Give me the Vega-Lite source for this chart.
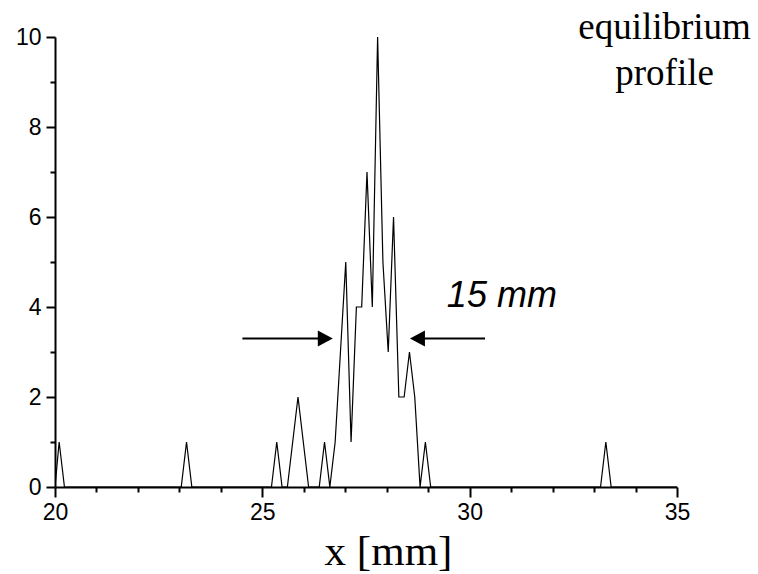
{
  "$schema": "https://vega.github.io/schema/vega-lite/v6.json",
  "width": 622,
  "height": 450,
  "autosize": {"type": "none"},
  "padding": {"left": 55, "top": 37, "right": 81, "bottom": 87},
  "background": "white",
  "config": {"view": {"stroke": null}},
  "resolve": {"axis": {"x": "independent", "y": "independent"}},
  "layer": [
    {
      "data": {"values": [
        {"x": 20.0, "y": 0}, {"x": 20.1, "y": 1}, {"x": 20.228, "y": 0}, {"x": 20.356, "y": 0}, {"x": 20.484, "y": 0},
        {"x": 20.612, "y": 0}, {"x": 20.74, "y": 0}, {"x": 20.868, "y": 0}, {"x": 20.996, "y": 0}, {"x": 21.124, "y": 0},
        {"x": 21.252, "y": 0}, {"x": 21.38, "y": 0}, {"x": 21.508, "y": 0}, {"x": 21.636, "y": 0}, {"x": 21.764, "y": 0},
        {"x": 21.892, "y": 0}, {"x": 22.02, "y": 0}, {"x": 22.148, "y": 0}, {"x": 22.276, "y": 0}, {"x": 22.404, "y": 0},
        {"x": 22.532, "y": 0}, {"x": 22.66, "y": 0}, {"x": 22.788, "y": 0}, {"x": 22.916, "y": 0}, {"x": 23.044, "y": 0},
        {"x": 23.172, "y": 1}, {"x": 23.3, "y": 0}, {"x": 23.428, "y": 0}, {"x": 23.556, "y": 0}, {"x": 23.684, "y": 0},
        {"x": 23.812, "y": 0}, {"x": 23.94, "y": 0}, {"x": 24.068, "y": 0}, {"x": 24.196, "y": 0}, {"x": 24.324, "y": 0},
        {"x": 24.452, "y": 0}, {"x": 24.58, "y": 0}, {"x": 24.708, "y": 0}, {"x": 24.836, "y": 0}, {"x": 24.964, "y": 0},
        {"x": 25.092, "y": 0}, {"x": 25.22, "y": 0}, {"x": 25.348, "y": 1}, {"x": 25.476, "y": 0}, {"x": 25.604, "y": 0},
        {"x": 25.732, "y": 1}, {"x": 25.86, "y": 2}, {"x": 25.988, "y": 1}, {"x": 26.116, "y": 0}, {"x": 26.244, "y": 0},
        {"x": 26.372, "y": 0}, {"x": 26.5, "y": 1}, {"x": 26.628, "y": 0}, {"x": 26.756, "y": 1}, {"x": 26.884, "y": 3},
        {"x": 27.012, "y": 5}, {"x": 27.14, "y": 1}, {"x": 27.268, "y": 4}, {"x": 27.396, "y": 4}, {"x": 27.524, "y": 7},
        {"x": 27.652, "y": 4}, {"x": 27.78, "y": 10}, {"x": 27.908, "y": 5}, {"x": 28.036, "y": 3}, {"x": 28.164, "y": 6},
        {"x": 28.292, "y": 2}, {"x": 28.42, "y": 2}, {"x": 28.548, "y": 3}, {"x": 28.676, "y": 2}, {"x": 28.804, "y": 0},
        {"x": 28.932, "y": 1}, {"x": 29.06, "y": 0}, {"x": 29.188, "y": 0}, {"x": 29.316, "y": 0}, {"x": 29.444, "y": 0},
        {"x": 29.572, "y": 0}, {"x": 29.7, "y": 0}, {"x": 29.828, "y": 0}, {"x": 29.956, "y": 0}, {"x": 30.084, "y": 0},
        {"x": 30.212, "y": 0}, {"x": 30.34, "y": 0}, {"x": 30.468, "y": 0}, {"x": 30.596, "y": 0}, {"x": 30.724, "y": 0},
        {"x": 30.852, "y": 0}, {"x": 30.98, "y": 0}, {"x": 31.108, "y": 0}, {"x": 31.236, "y": 0}, {"x": 31.364, "y": 0},
        {"x": 31.492, "y": 0}, {"x": 31.62, "y": 0}, {"x": 31.748, "y": 0}, {"x": 31.876, "y": 0}, {"x": 32.004, "y": 0},
        {"x": 32.132, "y": 0}, {"x": 32.26, "y": 0}, {"x": 32.388, "y": 0}, {"x": 32.516, "y": 0}, {"x": 32.644, "y": 0},
        {"x": 32.772, "y": 0}, {"x": 32.9, "y": 0}, {"x": 33.028, "y": 0}, {"x": 33.156, "y": 0}, {"x": 33.284, "y": 1},
        {"x": 33.412, "y": 0}, {"x": 33.54, "y": 0}, {"x": 33.668, "y": 0}, {"x": 33.796, "y": 0}, {"x": 33.924, "y": 0},
        {"x": 34.052, "y": 0}, {"x": 34.18, "y": 0}, {"x": 34.308, "y": 0}, {"x": 34.436, "y": 0}, {"x": 34.564, "y": 0},
        {"x": 34.692, "y": 0}, {"x": 34.82, "y": 0}, {"x": 34.948, "y": 0}, {"x": 35.0, "y": 0}
      ]},
      "mark": {"type": "line", "color": "black", "strokeWidth": 1.2, "clip": true},
      "encoding": {
        "x": {
          "field": "x", "type": "quantitative",
          "scale": {"domain": [20, 35], "nice": false, "zero": false},
          "axis": {
            "orient": "bottom",
            "values": [20, 25, 30, 35],
            "tickSize": 10,
            "title": "x [mm]",
            "titleFont": "Liberation Serif", "titleFontSize": 43, "titleFontWeight": "normal", "titleColor": "black",
            "titleX": 333, "titleY": 77, "titleBaseline": "alphabetic",
            "labelFont": "Liberation Sans", "labelFontSize": 23, "labelPadding": 4, "labelColor": "black",
            "labelOverlap": false, "labelFlush": false, "labelBound": false,
            "grid": false, "domainColor": "black", "tickColor": "black", "domainWidth": 2, "tickWidth": 2
          }
        },
        "y": {
          "field": "y", "type": "quantitative",
          "scale": {"domain": [0, 10], "nice": false},
          "axis": {
            "orient": "left",
            "values": [0, 2, 4, 6, 8, 10],
            "tickSize": 9,
            "title": null,
            "labelFont": "Liberation Sans", "labelFontSize": 23, "labelPadding": 5, "labelColor": "black",
            "labelOverlap": false, "labelFlush": false, "labelBound": false,
            "grid": false, "domainColor": "black", "tickColor": "black", "domainWidth": 2, "tickWidth": 2
          }
        }
      }
    },
    {
      "data": {"values": [{"x": 24.52, "x2": 26.5, "y": 3.3}, {"x": 28.75, "x2": 30.37, "y": 3.3}]},
      "mark": {"type": "rule", "color": "black", "strokeWidth": 2},
      "encoding": {
        "x": {
          "field": "x", "type": "quantitative",
          "axis": {
            "orient": "bottom",
            "values": [21, 22, 23, 24, 26, 27, 28, 29, 31, 32, 33, 34],
            "tickSize": 5, "labels": false, "domain": false, "grid": false, "title": null,
            "tickColor": "black", "tickWidth": 2
          }
        },
        "x2": {"field": "x2"},
        "y": {
          "field": "y", "type": "quantitative",
          "axis": {
            "orient": "left",
            "values": [1, 3, 5, 7, 9],
            "tickSize": 5, "labels": false, "domain": false, "grid": false, "title": null,
            "tickColor": "black", "tickWidth": 2
          }
        }
      }
    },
    {
      "data": {"values": [{"x": 26.7, "y": 3.3}]},
      "mark": {"type": "point", "shape": "M0,0L-1.875,-1L-1.875,1Z", "filled": true, "color": "black", "opacity": 1, "size": 256, "strokeWidth": 0},
      "encoding": {
        "x": {"field": "x", "type": "quantitative", "axis": null},
        "y": {"field": "y", "type": "quantitative", "axis": null}
      }
    },
    {
      "data": {"values": [{"x": 28.56, "y": 3.3}]},
      "mark": {"type": "point", "shape": "M0,0L1.875,-1L1.875,1Z", "filled": true, "color": "black", "opacity": 1, "size": 256, "strokeWidth": 0},
      "encoding": {
        "x": {"field": "x", "type": "quantitative", "axis": null},
        "y": {"field": "y", "type": "quantitative", "axis": null}
      }
    },
    {
      "data": {"values": [{"x": 29.45, "y": 4.0, "label": "15 mm"}]},
      "mark": {"type": "text", "font": "Liberation Sans", "fontSize": 36, "fontStyle": "italic", "align": "left", "baseline": "alphabetic", "color": "black"},
      "encoding": {
        "x": {"field": "x", "type": "quantitative", "axis": null},
        "y": {"field": "y", "type": "quantitative", "axis": null},
        "text": {"field": "label"}
      }
    },
    {
      "data": {"values": [{"x": 34.7, "y": 9.95, "label": ["equilibrium", "profile"]}]},
      "mark": {"type": "text", "font": "Liberation Serif", "fontSize": 37, "align": "center", "baseline": "alphabetic", "lineHeight": 46, "color": "black"},
      "encoding": {
        "x": {"field": "x", "type": "quantitative", "axis": null},
        "y": {"field": "y", "type": "quantitative", "axis": null},
        "text": {"field": "label"}
      }
    }
  ]
}
